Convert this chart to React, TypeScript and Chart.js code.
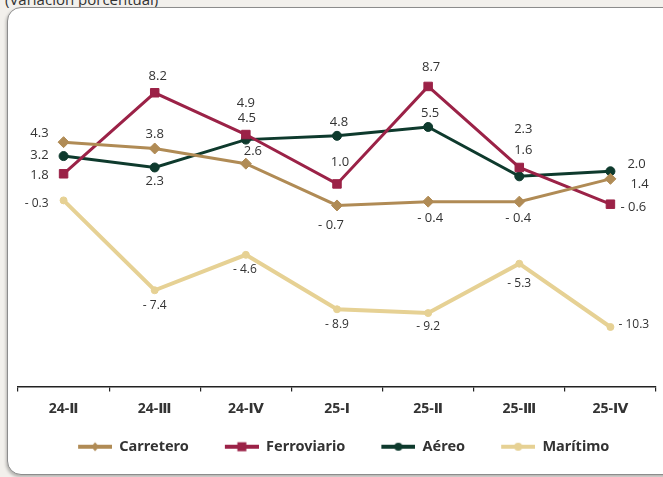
import React, { useEffect, useRef } from 'react';
import { Chart, registerables } from 'chart.js';

Chart.register(...registerables);

// ---- data ----
const categories = ['24-Ⅱ', '24-Ⅲ', '24-Ⅳ', '25-Ⅰ', '25-Ⅱ', '25-Ⅲ', '25-Ⅳ'];
const carretero = [4.3, 3.8, 2.6, -0.7, -0.4, -0.4, 1.4];
const ferroviario = [1.8, 8.2, 4.9, 1.0, 8.7, 2.3, -0.6];
const aereo = [3.2, 2.3, 4.5, 4.8, 5.5, 1.6, 2.0];
const maritimo = [-0.3, -7.4, -4.6, -8.9, -9.2, -5.3, -10.3];
const seriesNames = ['Carretero', 'Ferroviario', 'Aéreo', 'Marítimo'];

// ---- styles ----
const colors = ['#B08B55', '#9B2247', '#0E3A2D', '#E6D194'];
const pointStyles = ['rectRot', 'rect', 'circle', 'circle'];
const pointRadii = [5.5, 6, 4.5, 3.5];
const lineWidths = [3, 3, 3, 4];

// label placement per point: [textAlign, dx, dy]
type LblCfg = [CanvasTextAlign, number, number];
const labelPlacement: LblCfg[][] = [
  [['right', -15, -9], ['center', 0, -14], ['center', 7, -12], ['center', -6, 20], ['center', 2, 17], ['center', -1, 17], ['left', 20, 5]],
  [['right', -15, 1], ['center', 3, -16], ['center', 0, -31], ['center', 3, -22], ['center', 3, -19], ['center', 4, -38], ['left', 10, 3]],
  [['right', -15, -1], ['center', 0, 14], ['center', 1, -21], ['center', 2, -14], ['center', 2, -14], ['center', 4, -26], ['left', 17, -7]],
  [['right', -15, 3], ['center', 0, 15], ['center', -1, 15], ['center', 0, 15], ['center', 0, 14], ['center', 0, 20], ['left', 8, -2]],
];

const fmt = (v: number) => (v < 0 ? '- ' + Math.abs(v).toFixed(1) : v.toFixed(1));

const valueLabels = {
  id: 'valueLabels',
  afterDatasetsDraw(chart: any) {
    const ctx = chart.ctx as CanvasRenderingContext2D;
    chart.data.datasets.forEach((ds: any, di: number) => {
      const meta = chart.getDatasetMeta(di);
      meta.data.forEach((pt: any, i: number) => {
        const [align, dx, dy] = labelPlacement[di][i];
        ctx.save();
        ctx.font = di === 3 ? '12px "Open Sans"' : '13px "Open Sans"';
        ctx.fillStyle = '#333333';
        ctx.textAlign = align;
        ctx.textBaseline = 'middle';
        ctx.fillText(fmt(ds.data[i] as number), pt.x + dx, pt.y + dy);
        ctx.restore();
      });
    });
  },
};

// legend icon: transparent lead-in (extra gap between items) + line with marker
const ICON_GAP = 23;
const ICON_LINE = 34;
function legendIcon(i: number): HTMLCanvasElement {
  const c = document.createElement('canvas');
  c.width = ICON_GAP + ICON_LINE;
  c.height = 12;
  const ctx = c.getContext('2d')!;
  const x0 = ICON_GAP;
  const cx = x0 + ICON_LINE / 2;
  ctx.strokeStyle = colors[i];
  ctx.fillStyle = colors[i];
  ctx.lineWidth = 4;
  ctx.beginPath();
  ctx.moveTo(x0, 6);
  ctx.lineTo(x0 + ICON_LINE, 6);
  ctx.stroke();
  ctx.beginPath();
  if (pointStyles[i] === 'rectRot') {
    ctx.moveTo(cx, 1.5);
    ctx.lineTo(cx + 4, 6);
    ctx.lineTo(cx, 10.5);
    ctx.lineTo(cx - 4, 6);
    ctx.closePath();
  } else if (pointStyles[i] === 'rect') {
    ctx.rect(cx - 4.5, 1.5, 9, 9);
  } else {
    ctx.arc(cx, 6, 4, 0, Math.PI * 2);
  }
  ctx.fill();
  return c;
}

const legendShift = {
  id: 'legendShift',
  afterInit(chart: any) {
    const lg = chart.legend;
    if (!lg || lg.__patched) return;
    const orig = lg.draw.bind(lg);
    lg.draw = function (...args: any[]) {
      const ctx = chart.ctx;
      ctx.save();
      ctx.translate(-ICON_GAP / 2 + 6, 0);
      orig(...args);
      ctx.restore();
    };
    lg.__patched = true;
  },
};

export default function App() {
  const ref = useRef<HTMLCanvasElement>(null);

  useEffect(() => {
    if (!ref.current) return;
    const values = [carretero, ferroviario, aereo, maritimo];
    const icons = seriesNames.map((_, i) => legendIcon(i));
    const chart = new Chart(ref.current, {
      type: 'line',
      data: {
        labels: categories,
        datasets: seriesNames.map((name, i) => ({
          label: name,
          data: values[i],
          borderColor: colors[i],
          backgroundColor: colors[i],
          borderWidth: lineWidths[i],
          pointStyle: pointStyles[i] as any,
          pointRadius: pointRadii[i],
          pointBorderWidth: 1,
          pointBackgroundColor: colors[i],
          pointBorderColor: colors[i],
          tension: 0,
          fill: false,
        })),
      },
      options: {
        animation: false,
        responsive: false,
        devicePixelRatio: 1,
        layout: { padding: { left: 18, right: 5.5, top: 32, bottom: 13 } },
        scales: {
          x: {
            offset: true,
            grid: { offset: true, drawOnChartArea: false, drawTicks: true, tickLength: 5, color: '#222', lineWidth: 1.2 },
            border: { display: true, color: '#222', width: 1.5 },
            ticks: { padding: 9, color: '#333', font: { family: '"Open Sans", "DejaVu Sans"', size: 14, weight: 'bold' } },
            afterFit: (scale: any) => {
              scale.height = 40;
            },
          },
          y: {
            display: false,
            min: -15,
            max: 13,
          },
        },
        plugins: {
          legend: {
            position: 'bottom',
            labels: {
              usePointStyle: true,
              pointStyleWidth: ICON_GAP + ICON_LINE,
              padding: 13,
              color: '#333',
              font: { family: '"Noto Sans"', size: 14.5, weight: 'bold' },
              generateLabels: (ch: any) =>
                ch.data.datasets.map((ds: any, i: number) => ({
                  text: ds.label,
                  pointStyle: icons[i],
                  fillStyle: colors[i],
                  strokeStyle: colors[i],
                  lineWidth: 0,
                  hidden: false,
                  datasetIndex: i,
                  fontColor: '#333',
                })),
            },
          },
          tooltip: { enabled: false },
        },
      },
      plugins: [valueLabels, legendShift],
    });
    return () => chart.destroy();
  }, []);

  return (
    <div
      style={{
        position: 'absolute',
        left: 0,
        top: 0,
        width: 663,
        height: 477,
        overflow: 'hidden',
        background: '#f2f0ec',
      }}
    >
      <div
        style={{
          position: 'absolute',
          left: 5,
          top: -11,
          fontFamily: '"Open Sans"',
          fontSize: 15,
          color: '#333',
          whiteSpace: 'nowrap',
        }}
      >
        (Variación porcentual)
      </div>
      <div
        style={{
          position: 'absolute',
          left: 7,
          top: 7,
          width: 672,
          height: 466,
          border: '1.5px solid #8c8c8c',
          borderRadius: 14,
          background: '#ffffff',
          boxShadow: '-1px 2px 3px rgba(0,0,0,0.25)',
        }}
      />
      <canvas
        ref={ref}
        width={663}
        height={477}
        style={{ position: 'absolute', left: 0, top: 0, width: 663, height: 477 }}
      />
    </div>
  );
}
